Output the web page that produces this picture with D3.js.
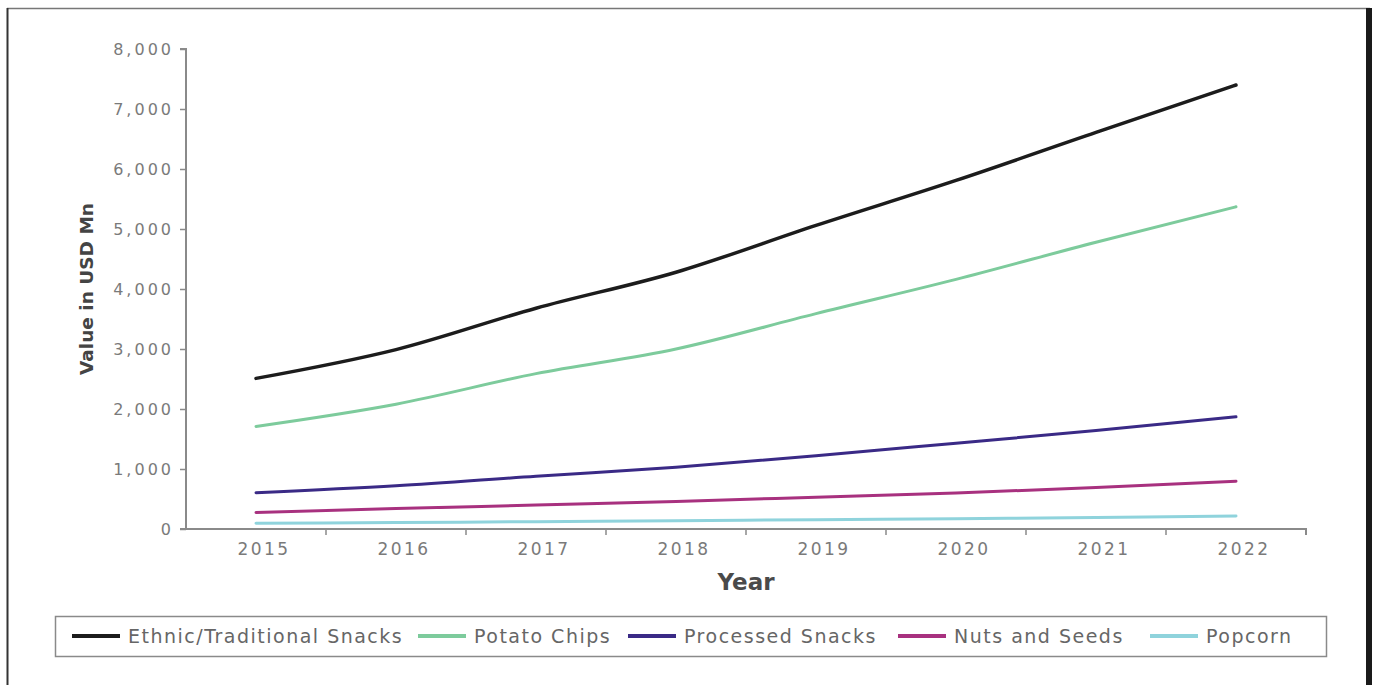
<!DOCTYPE html>
<html>
<head>
<meta charset="utf-8">
<script src="https://cdn.jsdelivr.net/npm/d3@7"></script>
<style>
  body { margin: 0; background: #fff; }
  svg text { font-family: "DejaVu Sans", sans-serif; }
</style>
</head>
<body>
<svg id="chart" width="1381" height="685"></svg>
<script>
// data
var years = ["2015", "2016", "2017", "2018", "2019", "2020", "2021", "2022"];
var seriesNames = ["Ethnic/Traditional Snacks", "Potato Chips", "Processed Snacks", "Nuts and Seeds", "Popcorn"];
var seriesColors = ["#1c1c1c", "#7dcb9c", "#3a2a86", "#a8317f", "#8fd3dc"];
var ethnic = [2510, 2990, 3680, 4280, 5060, 5810, 6610, 7400];
var potato = [1710, 2080, 2590, 3000, 3590, 4160, 4780, 5370];
var processed = [605, 720, 880, 1030, 1220, 1430, 1640, 1870];
var nuts = [275, 340, 400, 460, 530, 600, 690, 795];
var popcorn = [95, 108, 122, 138, 155, 172, 192, 215];
var yTicks = [0, 1000, 2000, 3000, 4000, 5000, 6000, 7000, 8000];

var allSeries = [ethnic, potato, processed, nuts, popcorn];

var svg = d3.select("#chart");

// outer frame like the screenshot
svg.append("line").attr("x1", 7).attr("x2", 1370).attr("y1", 8.5).attr("y2", 8.5)
    .attr("stroke", "#777").attr("stroke-width", 1.5);
svg.append("line").attr("x1", 7.5).attr("x2", 7.5).attr("y1", 8).attr("y2", 685)
    .attr("stroke", "#333").attr("stroke-width", 2);
svg.append("rect").attr("x", 1366).attr("y", 8).attr("width", 6).attr("height", 677)
    .attr("fill", "#1a1a1a");

var x = d3.scaleBand()
    .domain(years)
    .range([186, 1306])
    .padding(0);

var y = d3.scaleLinear()
    .domain([0, 8000])
    .range([529, 49]);

// y axis
var yAxis = svg.append("g")
    .attr("transform", "translate(186,0)")
    .call(d3.axisLeft(y).tickValues(yTicks).tickSize(6).tickPadding(6)
        .tickFormat(function (d) { return d3.format(",")(d); }));
yAxis.select(".domain").attr("stroke", "#8a8a8a").attr("stroke-width", 2)
    .attr("d", "M-6,49H0V529H-6");
yAxis.selectAll(".tick line").attr("stroke", "#8a8a8a").attr("stroke-width", 1.5);
yAxis.selectAll(".tick text").attr("fill", "#7a7a7a")
    .style("font-size", "16px").style("letter-spacing", "3px");

// x axis: labels centered on bands, ticks at band edges
var xAxis = svg.append("g")
    .attr("transform", "translate(0,529)")
    .call(d3.axisBottom(x).tickSize(0).tickPadding(14));
xAxis.select(".domain").attr("stroke", "#8a8a8a").attr("stroke-width", 2)
    .attr("d", "M186,0H1306V6");
xAxis.selectAll(".tick text").attr("fill", "#7a7a7a").attr("dx", 8)
    .style("font-size", "17px").style("letter-spacing", "2.5px");
svg.append("g").selectAll("line")
    .data(years.slice(1).concat(["end"]))
    .enter().append("line")
    .attr("x1", function (d) { return d === "end" ? x.range()[1] : x(d); })
    .attr("x2", function (d) { return d === "end" ? x.range()[1] : x(d); })
    .attr("y1", 529).attr("y2", 535)
    .attr("stroke", "#8a8a8a").attr("stroke-width", 1.5);

// axis titles
svg.append("text")
    .attr("transform", "translate(93,289) rotate(-90)")
    .attr("text-anchor", "middle")
    .attr("fill", "#444")
    .style("font-size", "18.5px")
    .style("font-weight", "bold")
    .text("Value in USD Mn");
svg.append("text")
    .attr("x", 746).attr("y", 590)
    .attr("text-anchor", "middle")
    .attr("fill", "#4a4a4a")
    .style("font-size", "23px")
    .style("font-weight", "bold")
    .text("Year");

// lines
var line = d3.line()
    .x(function (d, i) { return x(years[i]) + x.bandwidth() / 2; })
    .y(function (d) { return y(d); })
    .curve(d3.curveMonotoneX);

svg.append("g").selectAll("path")
    .data(allSeries)
    .enter().append("path")
    .attr("d", line)
    .attr("fill", "none")
    .attr("stroke", function (d, i) { return seriesColors[i]; })
    .attr("stroke-width", function (d, i) { return i === 0 ? 3.5 : 3; })
    .attr("stroke-linecap", "round");

// legend
svg.append("rect")
    .attr("x", 55.5).attr("y", 616.5).attr("width", 1271).attr("height", 40)
    .attr("fill", "none").attr("stroke", "#8a8a8a").attr("stroke-width", 1.5);

var legendX = [72, 418, 628, 898, 1150];
var lg = svg.append("g").selectAll("g")
    .data(seriesNames)
    .enter().append("g")
    .attr("transform", function (d, i) { return "translate(" + legendX[i] + ",636)"; });
lg.append("line")
    .attr("x1", 0).attr("x2", 48).attr("y1", 0).attr("y2", 0)
    .attr("stroke", function (d, i) { return seriesColors[i]; })
    .attr("stroke-width", 4);
lg.append("text")
    .attr("x", 56).attr("y", 0).attr("dy", "0.35em")
    .attr("fill", "#666")
    .style("font-size", "19px")
    .style("letter-spacing", "1.5px")
    .text(function (d) { return d; });
</script>
</body>
</html>
